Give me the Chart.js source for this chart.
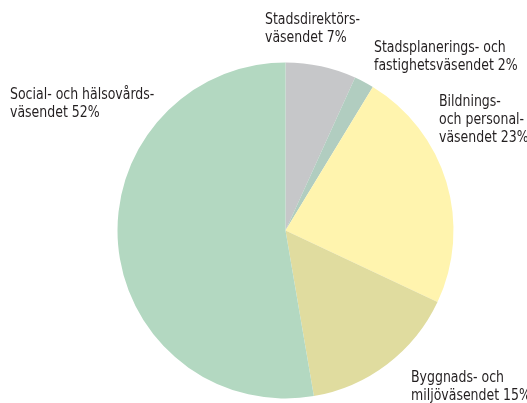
<!DOCTYPE html>
<html>
<head>
<meta charset="utf-8">
<script src="https://cdn.jsdelivr.net/npm/chart.js@4"></script>
<style>
  html, body { margin: 0; padding: 0; background: #fff; }
  #wrap { width: 527px; height: 403px; position: relative; }
</style>
</head>
<body>
<div id="wrap"><canvas id="pie"></canvas></div>
<script>
  // categories, in clockwise order from 12 o'clock
  const categories = [
    ["Stadsdirektörs-", "väsendet 7%"],
    ["Stadsplanerings- och", "fastighetsväsendet 2%"],
    ["Bildnings-", "och personal-", "väsendet 23%"],
    ["Byggnads- och", "miljöväsendet 15%"],
    ["Social- och hälsovårds-", "väsendet 52%"],
  ];
  // share of each slice
  const shares = [6.8, 1.9, 23.3, 15.3, 52.7];
  const colors = ["#c6c7c9", "#b1cdc0", "#fff4ae", "#e0dc9f", "#b3d8c1"];

  // where each label block starts (left x, first line middle y)
  const labelSpots = [
    [265, 20],
    [374, 48],
    [439, 102],
    [411, 378],
    [10, 95],
  ];

  // the source type is a condensed face; squeeze DejaVu Condensed a bit more
  const squeeze = 0.87;

  const labelPlugin = {
    id: "outerLabels",
    afterDraw(chart) {
      const ctx = chart.ctx;
      ctx.save();
      ctx.font = '16px "DejaVu Sans Condensed", "Liberation Sans Narrow", sans-serif';
      ctx.fillStyle = "#231f20";
      ctx.textBaseline = "middle";
      ctx.textAlign = "left";
      categories.forEach((lines, i) => {
        const [x, y] = labelSpots[i];
        lines.forEach((t, j) => {
          ctx.save();
          ctx.translate(x, y + j * 18);
          ctx.scale(squeeze, 1);
          ctx.fillText(t, 0, 0);
          ctx.restore();
        });
      });
      ctx.restore();
    },
  };

  new Chart(document.getElementById("pie"), {
    type: "pie",
    data: {
      labels: categories.map((l) => l.join(" ")),
      datasets: [
        {
          data: shares,
          backgroundColor: colors,
          borderWidth: 0,
        },
      ],
    },
    options: {
      responsive: true,
      maintainAspectRatio: false,
      animation: false,
      layout: { padding: { left: 117.5, right: 73.5, top: 62.5, bottom: 4.5 } },
      plugins: {
        legend: { display: false },
        tooltip: { enabled: false },
      },
    },
    plugins: [labelPlugin],
  });
</script>
</body>
</html>
